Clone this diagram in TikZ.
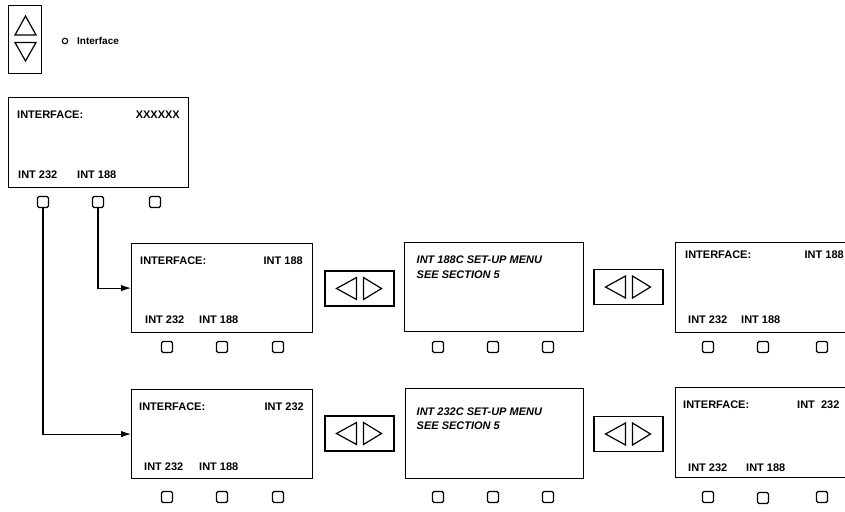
\documentclass[tikz,border=0pt]{standalone}
\usepackage{fontspec}
\setmainfont{Liberation Sans}
\usetikzlibrary{arrows.meta}
\tikzset{
  screen/.style={draw, line width=1.2pt, minimum width=181pt, minimum height=89pt, anchor=north west, inner sep=0pt},
  key/.style={draw, line width=1.3pt, rounded corners=1.5pt, minimum size=11pt, inner sep=0pt},
  lbl/.style={font=\bfseries\fontsize{11}{13}\selectfont, inner sep=0pt},
  ital/.style={font=\bfseries\itshape\fontsize{11}{13}\selectfont, inner sep=0pt, anchor=west},
  navbox/.style={draw, line width=1.2pt, minimum width=69pt, minimum height=35pt, inner sep=0pt},
  tri/.style={line width=1.2pt, line join=miter},
  link/.style={line width=1.1pt, -{Latex[length=10pt,width=6.5pt]}},
}
\newcommand{\navtris}[1]{%
  \draw[tri] ([xshift=-23pt]#1.center) -- ([xshift=-3pt,yshift=11pt]#1.center) -- ([xshift=-3pt,yshift=-11pt]#1.center) -- cycle;
  \draw[tri] ([xshift=22pt]#1.center) -- ([xshift=4pt,yshift=11pt]#1.center) -- ([xshift=4pt,yshift=-11pt]#1.center) -- cycle;}
\begin{document}
\begin{tikzpicture}[x=1pt,y=-1pt]
\useasboundingbox (0,0) rectangle (845,511);
\clip (0,0) rectangle (845,511);

% up/down selector
\node[draw, line width=1.2pt, anchor=north west, minimum width=33pt, minimum height=68pt, inner sep=0pt] (updown) at (8,5) {};
\draw[tri] (25.5,16) -- (36,35) -- (15,35) -- cycle;
\draw[tri] (15,42.5) -- (36,42.5) -- (25.5,61) -- cycle;
\node[circle, draw, line width=1.1pt, minimum size=5.5pt, inner sep=0pt] (led) at (65,41) {};
\node[anchor=west, inner sep=0pt, font=\bfseries\fontsize{10}{12}\selectfont] (ledtxt) at (77,41) {Interface};

% top screen
\node[screen, minimum width=180pt, minimum height=90pt] (s0) at (8,97) {};
\node[lbl, anchor=west] (s0t) at (17,115) {INTERFACE:};
\node[lbl, anchor=east] (s0v) at (180,115) {XXXXXX};
\node[lbl, anchor=west] (s0a) at (18,175) {INT 232};
\node[lbl, anchor=west] (s0b) at (77,175) {INT 188};
\node[key] (k0a) at (43,202) {};
\node[key] (k0b) at (98,202) {};
\node[key] (k0c) at (155,202) {};

% row 1
\node[screen] (s1) at (131,243) {};
\node[lbl, anchor=west] (s1t) at (140,261) {INTERFACE:};
\node[lbl, anchor=east] (s1v) at (303,261) {INT 188};
\node[lbl, anchor=west] (s1a) at (145,320) {INT 232};
\node[lbl, anchor=west] (s1b) at (199,320) {INT 188};

\node[navbox] (n1) at (359.5,288.5) {};
\navtris{n1}

\node[screen, minimum width=179pt] (s2) at (404,242) {};
\node[ital] (s2t) at (416.5,260) {INT 188C SET-UP MENU};
\node[ital] (s2u) at (416.5,275) {SEE SECTION 5};

\node[navbox] (n2) at (628.5,287) {};
\navtris{n2}

\node[screen, minimum width=182pt, minimum height=90pt] (s3) at (675,242) {};
\node[lbl, anchor=west] (s3t) at (685,255) {INTERFACE:};
\node[lbl, anchor=east] (s3v) at (844,255) {INT 188};
\node[lbl, anchor=west] (s3a) at (688,320) {INT 232};
\node[lbl, anchor=west] (s3b) at (741,320) {INT 188};

\foreach \n/\x in {k1a/167,k1b/222,k1c/278,k2a/438,k2b/493,k2c/548,k3a/708,k3b/763,k3c/822}
  \node[key] (\n) at (\x,347) {};

% row 2
\node[screen] (s4) at (131,389) {};
\node[lbl, anchor=west] (s4t) at (139,407) {INTERFACE:};
\node[lbl, anchor=east] (s4v) at (304,407) {INT 232};
\node[lbl, anchor=west] (s4a) at (144,467) {INT 232};
\node[lbl, anchor=west] (s4b) at (199,467) {INT 188};

\node[navbox] (n3) at (359.5,433.5) {};
\navtris{n3}

\node[screen, minimum width=178pt, minimum height=90pt] (s5) at (405,388) {};
\node[ital] (s5t) at (416.5,411.5) {INT 232C SET-UP MENU};
\node[ital] (s5u) at (416.5,425.5) {SEE SECTION 5};

\node[navbox] (n4) at (628.5,434) {};
\navtris{n4}

\node[screen, minimum width=182pt, minimum height=90pt] (s6) at (675,387) {};
\node[lbl, anchor=west] (s6t) at (683,405) {INTERFACE:};
\node[lbl, anchor=west] (s6v) at (797,405) {INT\ \ 232};
\node[lbl, anchor=west] (s6a) at (688,468) {INT 232};
\node[lbl, anchor=west] (s6b) at (746,468) {INT 188};

\foreach \n/\x/\y in {k4a/167/497,k4b/222/497,k4c/278/497,k5a/438/497,k5b/493/497,k5c/548/497,k6a/708/497,k6b/763/498,k6c/822/497}
  \node[key] (\n) at (\x,\y) {};

% connectors
\draw[link] (k0b.south) |- (s1.west);
\draw[link] (k0a.south) |- (s4.west);
\end{tikzpicture}
\end{document}
